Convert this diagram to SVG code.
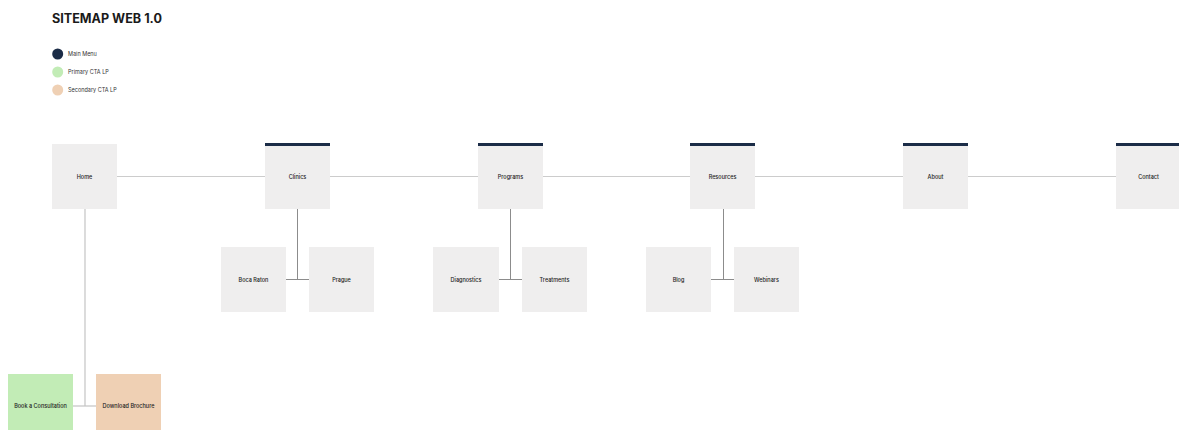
<svg xmlns="http://www.w3.org/2000/svg" width="1179" height="430" viewBox="0 0 1179 430">
<style>
.box{fill:#efeeee}
.bar{fill:#1b2c47}
.lbl{font-family:Inter,"Liberation Sans",sans-serif;font-size:5.5px;font-weight:500;fill:#222;text-anchor:middle;dominant-baseline:central}
.leg{font-family:Inter,"Liberation Sans",sans-serif;font-size:5.5px;fill:#333;dominant-baseline:central}
.main{stroke:#cccccc;stroke-width:1.2;fill:none}
.sub{stroke:#8c8c8c;stroke-width:1;fill:none}
.home{stroke:#c4c4c4;stroke-width:1.2;fill:none}
</style>
<rect width="1179" height="430" fill="#ffffff"/>
<text x="52" y="23" font-family="Inter,'Liberation Sans',sans-serif" font-size="12.6" font-weight="700" fill="#1a1a1a">SITEMAP WEB 1.0</text>
<g id="legend">
<circle cx="57.7" cy="54" r="5.5" fill="#1b2c47"/>
<text class="leg" x="68" y="54">Main Menu</text>
<circle cx="57.7" cy="72" r="5.5" fill="#c2ecb6"/>
<text class="leg" x="68" y="72">Primary CTA LP</text>
<circle cx="57.7" cy="90" r="5.5" fill="#efd0b4"/>
<text class="leg" x="68" y="90">Secondary CTA LP</text>
</g>
<g id="connectors">
<line class="main" x1="117" y1="176.5" x2="1116" y2="176.5"/>
<line class="home" x1="85" y1="209" x2="85" y2="406"/>
<line class="home" x1="73" y1="406" x2="96" y2="406"/>
<line class="sub" x1="297.5" y1="209" x2="297.5" y2="279.5"/>
<line class="sub" x1="286" y1="279.5" x2="309" y2="279.5"/>
<line class="sub" x1="510.5" y1="209" x2="510.5" y2="279.5"/>
<line class="sub" x1="499" y1="279.5" x2="522" y2="279.5"/>
<line class="sub" x1="723.5" y1="209" x2="723.5" y2="279.5"/>
<line class="sub" x1="711" y1="279.5" x2="734" y2="279.5"/>
</g>
<g id="home"><rect class="box" x="52" y="144" width="65" height="65"/><text class="lbl" x="84.5" y="176.5">Home</text></g>
<g id="clinics"><rect class="box" x="265" y="144" width="65" height="65"/><rect class="bar" x="265" y="143" width="65" height="3"/><text class="lbl" x="297.5" y="176.5">Clinics</text></g>
<g id="programs"><rect class="box" x="478" y="144" width="65" height="65"/><rect class="bar" x="478" y="143" width="65" height="3"/><text class="lbl" x="510.5" y="176.5">Programs</text></g>
<g id="resources"><rect class="box" x="690" y="144" width="65" height="65"/><rect class="bar" x="690" y="143" width="65" height="3"/><text class="lbl" x="722.5" y="176.5">Resources</text></g>
<g id="about"><rect class="box" x="903" y="144" width="65" height="65"/><rect class="bar" x="903" y="143" width="65" height="3"/><text class="lbl" x="935.5" y="176.5">About</text></g>
<g id="contact"><rect class="box" x="1116" y="144" width="65" height="65"/><rect class="bar" x="1116" y="143" width="65" height="3"/><text class="lbl" x="1148.5" y="176.5">Contact</text></g>
<g id="boca-raton"><rect class="box" x="221" y="247" width="65" height="65"/><text class="lbl" x="253.5" y="279.5">Boca Raton</text></g>
<g id="prague"><rect class="box" x="309" y="247" width="65" height="65"/><text class="lbl" x="341.5" y="279.5">Prague</text></g>
<g id="diagnostics"><rect class="box" x="433" y="247" width="66" height="65"/><text class="lbl" x="466" y="279.5">Diagnostics</text></g>
<g id="treatments"><rect class="box" x="522" y="247" width="65" height="65"/><text class="lbl" x="554.5" y="279.5">Treatments</text></g>
<g id="blog"><rect class="box" x="646" y="247" width="65" height="65"/><text class="lbl" x="678.5" y="279.5">Blog</text></g>
<g id="webinars"><rect class="box" x="734" y="247" width="65" height="65"/><text class="lbl" x="766.5" y="279.5">Webinars</text></g>
<g id="book-consultation"><rect x="8" y="374" width="65" height="65" fill="#c2ecb6"/><text class="lbl" x="40.5" y="406">Book a Consultation</text></g>
<g id="download-brochure"><rect x="96" y="374" width="65" height="65" fill="#efd0b4"/><text class="lbl" x="128.5" y="406">Download Brochure</text></g>
</svg>
